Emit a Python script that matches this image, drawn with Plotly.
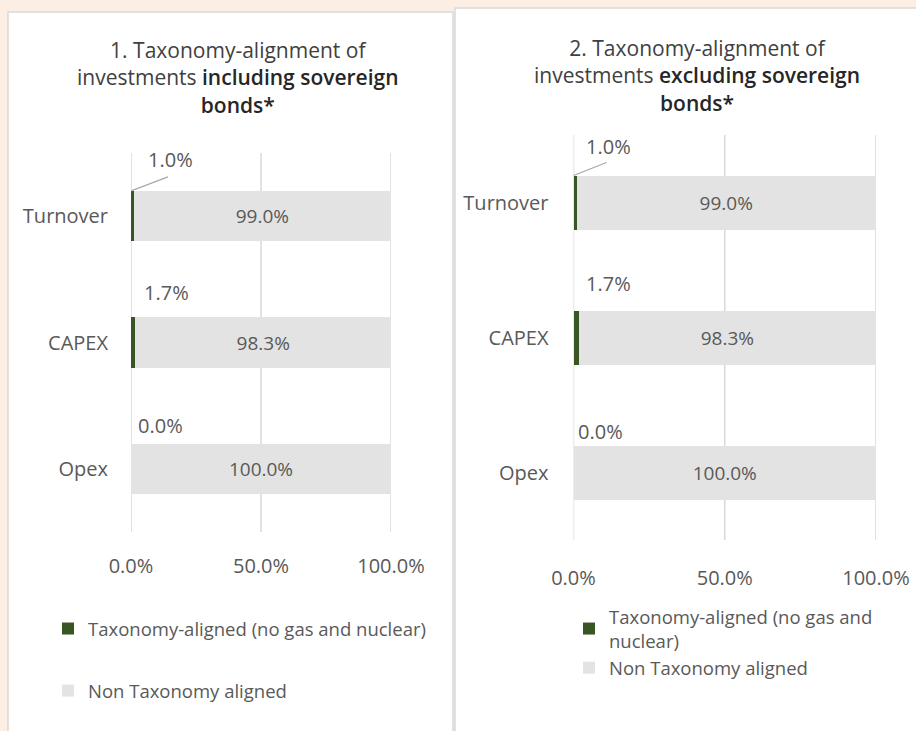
import plotly.graph_objects as go

# ---------------- data ----------------
categories = ["Turnover", "CAPEX", "Opex"]
aligned_incl = [1.0, 1.7, 0.0]
non_aligned_incl = [99.0, 98.3, 100.0]
aligned_excl = [1.0, 1.7, 0.0]
non_aligned_excl = [99.0, 98.3, 100.0]
x_ticks = [0, 50, 100]
x_tick_labels = ["0.0%", "50.0%", "100.0%"]
series_names = ["Taxonomy-aligned (no gas and nuclear)", "Non Taxonomy aligned"]
B = '<span style="font-weight:600;color:#262626">'
title_1 = f"1. Taxonomy-alignment of<br>investments {B}including sovereign</span><br>{B}bonds*</span>"
title_2 = f"2. Taxonomy-alignment of<br>investments {B}excluding sovereign</span><br>{B}bonds*</span>"

# ---------------- style ----------------
W, H = 916, 731
GREEN = "#375623"
GREY = "#E3E3E3"
TXT = "#595959"
GRID = "#D9D9D9"
FONT = "Open Sans"
BG = "#FDEEE3"


def px(x):
    return x / W


def py(y):
    return 1 - y / H


fig = go.Figure()

panels = [
    dict(ax="x", ay="y", legend="legend", al=aligned_incl, na=non_aligned_incl,
         xdom=[px(131), px(391)], ydom=[py(532), py(153)],
         lab_dx=[12, 7, 5], lab_dy=[57, 50, 43], lead=(37, 14),
         xstand=20, ystand=22),
    dict(ax="x2", ay="y2", legend="legend2", al=aligned_excl, na=non_aligned_excl,
         xdom=[px(573.5), px(876)], ydom=[py(540), py(135)],
         lab_dx=[7, 5, 2], lab_dy=[56, 54, 41], lead=(33, 13),
         xstand=24, ystand=24),
]

annotations = []
grid_shapes = []

for i, p in enumerate(panels):
    names = series_names[:]
    if i == 1:
        names[0] = "Taxonomy-aligned (no gas and<br>nuclear)"
    # vertical grid lines at the tick values
    for t in x_ticks:
        grid_shapes.append(dict(
            type="line", xref=p["ax"], yref=p["ay"] + " domain",
            x0=t, x1=t, y0=0, y1=1, layer="below",
            line=dict(color=GRID, width=1.5),
        ))
    fig.add_trace(go.Bar(
        x=p["al"], y=categories, orientation="h", name=names[0],
        marker=dict(color=GREEN, line=dict(width=0)),
        xaxis=p["ax"], yaxis=p["ay"], legend=p["legend"], legendgroup=f"g{i}a",
        hoverinfo="x+y",
    ))
    fig.add_trace(go.Bar(
        x=p["na"], y=categories, orientation="h", name=names[1],
        marker=dict(color=GREY, line=dict(width=0)),
        text=[f"{v:.1f}%" for v in p["na"]], textposition="inside",
        insidetextanchor="middle", textangle=0,
        insidetextfont=dict(family=FONT, size=19, color=TXT),
        xaxis=p["ax"], yaxis=p["ay"], legend=p["legend"], legendgroup=f"g{i}b",
        hoverinfo="x+y",
    ))
    # labels of the aligned share, above each bar
    for j, (c, v) in enumerate(zip(categories, p["al"])):
        annotations.append(dict(
            x=v, y=c, xref=p["ax"], yref=p["ay"], text=f"{v:.1f}%",
            showarrow=False, xanchor="left", yanchor="middle",
            xshift=p["lab_dx"][j], yshift=p["lab_dy"][j],
            font=dict(family=FONT, size=20, color=TXT),
        ))
    # leader line for the first label
    grid_shapes.append(dict(
        type="line", xref=p["ax"], yref=p["ay"],
        xsizemode="pixel", ysizemode="pixel",
        xanchor=0, yanchor=-0.2,
        x0=0, x1=p["lead"][0], y0=0, y1=p["lead"][1],
        line=dict(color="#A6A6A6", width=1.2),
    ))

# panel backgrounds
shapes = [
    dict(type="rect", xref="paper", yref="paper", x0=px(8), x1=px(453), y0=py(740), y1=py(12),
         fillcolor="white", line=dict(color=GRID, width=1.5), layer="below"),
    dict(type="rect", xref="paper", yref="paper", x0=px(455), x1=px(925), y0=py(740), y1=py(8),
         fillcolor="white", line=dict(color=GRID, width=1.5), layer="below"),
] + grid_shapes

annotations += [
    dict(x=px(238), y=py(34), xref="paper", yref="paper", text=title_1, showarrow=False,
         xanchor="center", yanchor="top", align="center",
         font=dict(family=FONT, size=21, color="#404040")),
    dict(x=px(697), y=py(32), xref="paper", yref="paper", text=title_2, showarrow=False,
         xanchor="center", yanchor="top", align="center",
         font=dict(family=FONT, size=21, color="#404040")),
]

axis_x = dict(range=[0, 100], tickvals=x_ticks, ticktext=x_tick_labels,
              showgrid=False, zeroline=False, showline=False,
              ticks="", fixedrange=True,
              tickfont=dict(family=FONT, size=20, color=TXT))
axis_y = dict(autorange="reversed", showgrid=False, zeroline=False, showline=False,
              ticks="", fixedrange=True,
              tickfont=dict(family=FONT, size=20, color=TXT))

fig.update_layout(
    width=W, height=H, template="none",
    margin=dict(l=0, r=0, t=0, b=0),
    paper_bgcolor=BG, plot_bgcolor="rgba(0,0,0,0)",
    barmode="stack", bargap=0.6,
    font=dict(family=FONT, color=TXT),
    xaxis=dict(axis_x, domain=panels[0]["xdom"], anchor="y", ticklabelstandoff=panels[0]["xstand"]),
    yaxis=dict(axis_y, domain=panels[0]["ydom"], anchor="x", ticklabelstandoff=panels[0]["ystand"]),
    xaxis2=dict(axis_x, domain=panels[1]["xdom"], anchor="y2", ticklabelstandoff=panels[1]["xstand"]),
    yaxis2=dict(axis_y, domain=panels[1]["ydom"], anchor="x2", ticklabelstandoff=panels[1]["ystand"]),
    legend=dict(x=px(48), y=py(610), xanchor="left", yanchor="top",
                bgcolor="rgba(0,0,0,0)", traceorder="grouped", tracegroupgap=35,
                font=dict(family=FONT, size=18.5, color=TXT)),
    legend2=dict(x=px(569), y=py(598), xanchor="left", yanchor="top",
                 bgcolor="rgba(0,0,0,0)", traceorder="grouped", tracegroupgap=0,
                 font=dict(family=FONT, size=18.5, color=TXT)),
    showlegend=True,
    shapes=shapes,
    annotations=annotations,
)

fig.write_html(
    "out.html",
    config={"displayModeBar": False},
    post_script="document.body.style.margin='0';document.body.style.background='" + BG + "';",
)
